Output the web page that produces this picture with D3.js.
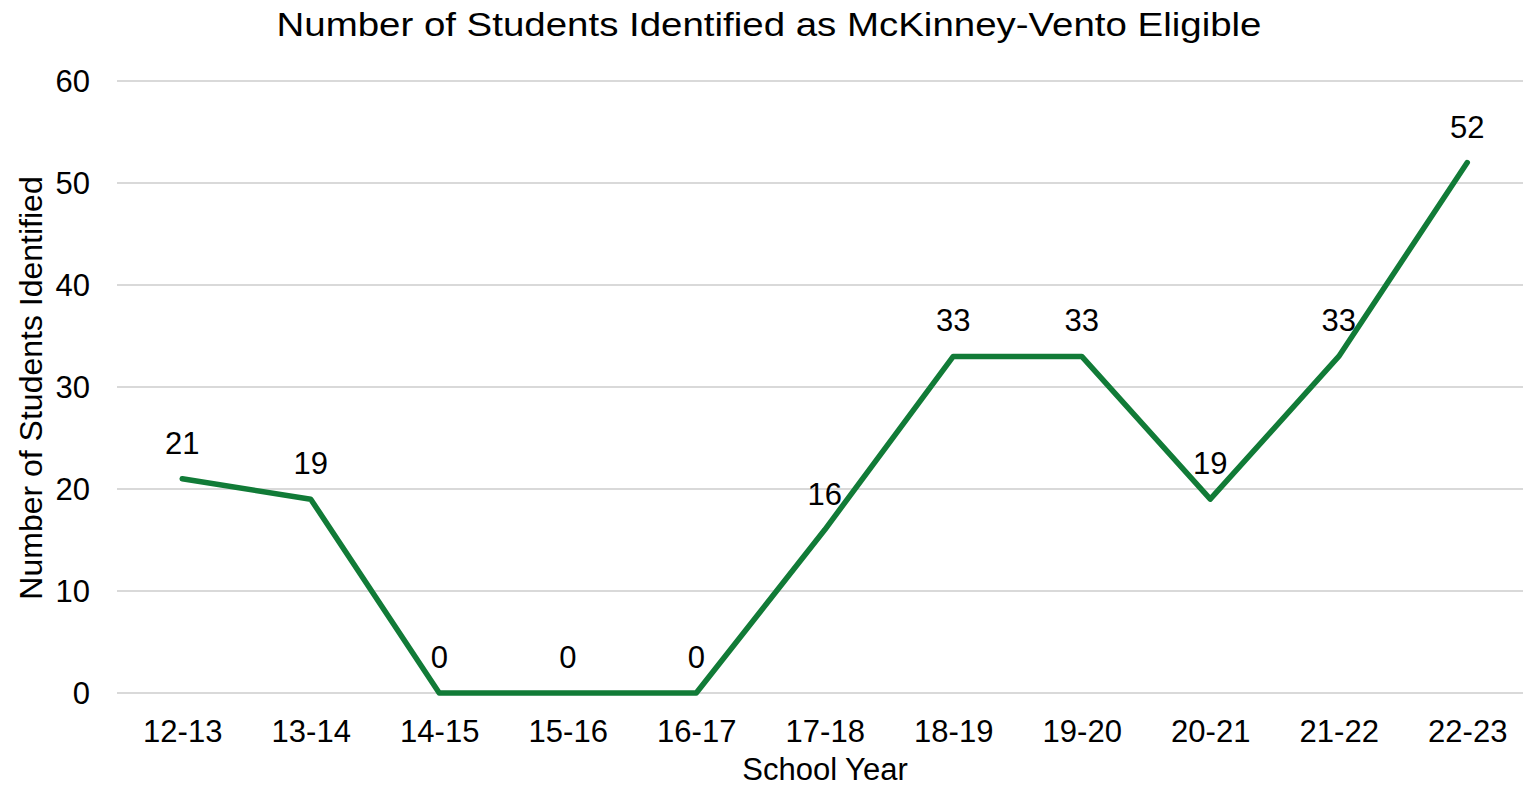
<html>
<head>
    <style>
        body { margin: 0; background: #fff; }
        text { font-family: "Liberation Sans", Arial, sans-serif; fill: #000; }
        .grid line { stroke: #d9d9d9; stroke-width: 2px; }
    </style>
</head>
<body>
    <script src="https://d3js.org/d3.v7.min.js"></script>
    <script>
        var years = ["12-13", "13-14", "14-15", "15-16", "16-17", "17-18", "18-19", "19-20", "20-21", "21-22", "22-23"];
        var students = [21, 19, 0, 0, 0, 16, 33, 33, 19, 33, 52];
        var yTicks = [0, 10, 20, 30, 40, 50, 60];

        var width = 1523, height = 788;

        var svg = d3.select("body").append("svg")
            .attr("width", width)
            .attr("height", height);

        var x = d3.scalePoint().domain(years).range([118, 1531.5]).padding(0.5);
        var y = d3.scaleLinear().domain([0, 60]).range([693, 81]);

        // horizontal gridlines
        svg.append("g").attr("class", "grid")
            .selectAll("line")
            .data(yTicks)
            .enter().append("line")
            .attr("x1", 117).attr("x2", width)
            .attr("y1", function (d) { return y(d); })
            .attr("y2", function (d) { return y(d); });

        // y tick labels
        var yAxis = svg.append("g")
            .attr("transform", "translate(90,0)")
            .call(d3.axisLeft(y).tickValues(yTicks).tickSize(0).tickPadding(0));
        yAxis.select(".domain").remove();
        yAxis.selectAll("text")
            .style("font-size", "31px")
            .attr("font-family", null)
            .attr("dy", "0.35em");

        // x tick labels
        var xAxis = svg.append("g")
            .attr("transform", "translate(0,742)")
            .call(d3.axisBottom(x).tickSize(0).tickPadding(0));
        xAxis.select(".domain").remove();
        xAxis.selectAll("text")
            .style("font-size", "31px")
            .attr("font-family", null)
            .attr("dy", 0)
            .attr("y", 0);

        var line = d3.line()
            .x(function (d, i) { return x(years[i]); })
            .y(function (d) { return y(d); });

        svg.append("path")
            .datum(students)
            .attr("d", line)
            .attr("fill", "none")
            .attr("stroke", "#117b37")
            .attr("stroke-width", 5.5)
            .attr("stroke-linejoin", "round")
            .attr("stroke-linecap", "round");

        // data labels
        svg.append("g").selectAll("text")
            .data(students)
            .enter().append("text")
            .attr("x", function (d, i) { return x(years[i]); })
            .attr("y", function (d) { return y(d) - 25; })
            .attr("text-anchor", "middle")
            .style("font-size", "31px")
            .text(function (d) { return d; });

        svg.append("text")
            .attr("x", 769)
            .attr("y", 36)
            .attr("text-anchor", "middle")
            .attr("textLength", 985)
            .attr("lengthAdjust", "spacingAndGlyphs")
            .style("font-size", "33px")
            .text("Number of Students Identified as McKinney-Vento Eligible");

        svg.append("text")
            .attr("x", 825)
            .attr("y", 780)
            .attr("text-anchor", "middle")
            .style("font-size", "31px")
            .text("School Year");

        svg.append("text")
            .attr("transform", "translate(42,388) rotate(-90)")
            .attr("text-anchor", "middle")
            .style("font-size", "32px")
            .text("Number of Students Identified");
    </script>
</body>
</html>
